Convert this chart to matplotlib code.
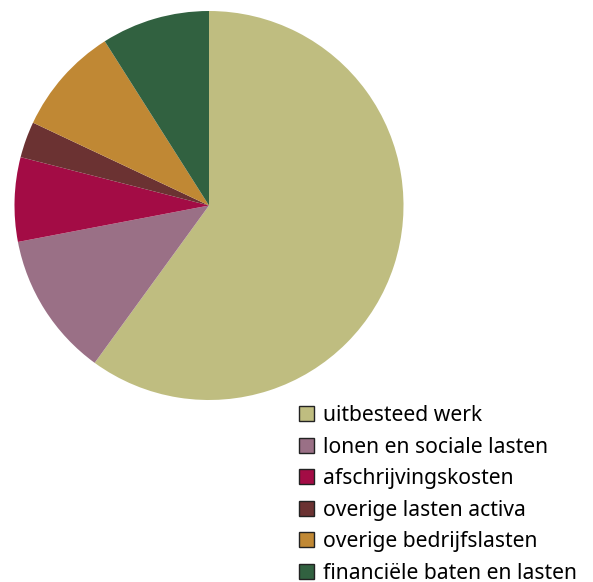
import matplotlib
matplotlib.use("Agg")
import matplotlib.pyplot as plt
from matplotlib.patches import Patch

labels = ["uitbesteed werk", "lonen en sociale lasten", "afschrijvingskosten",
          "overige lasten activa", "overige bedrijfslasten", "financiële baten en lasten"]
shares = [60, 12, 7, 3, 9, 9]
colors = ["#BFBD80", "#9A7086", "#A30C45", "#6B3232", "#C08834", "#316140"]

plt.rcParams['font.family'] = ['Noto Sans', 'DejaVu Sans']

W, H = 593, 582
fig = plt.figure(figsize=(W / 100, H / 100), dpi=100)

# pie axes: centre (209, 205.5), radius 194.5 px
cx, cy, r = 209, 205.5, 194.5
ax = fig.add_axes([(cx - r) / W, (H - cy - r) / H, 2 * r / W, 2 * r / H])
ax.pie(shares, colors=colors, startangle=90, counterclock=False, radius=1,
       wedgeprops=dict(linewidth=0))
ax.set_xlim(-1, 1)
ax.set_ylim(-1, 1)
ax.set_aspect('equal')
ax.axis('off')

handles = [Patch(facecolor=c, edgecolor='#222222', linewidth=1.0) for c in colors]
fig.legend(handles, labels, loc='upper left', bbox_to_anchor=(299 / W, 1 - 405 / H),
           frameon=False, fontsize=15.2, handlelength=0.71, handleheight=0.71,
           handletextpad=0.42, labelspacing=0.5, borderpad=0, borderaxespad=0)

fig.savefig("out.png", dpi=100)
